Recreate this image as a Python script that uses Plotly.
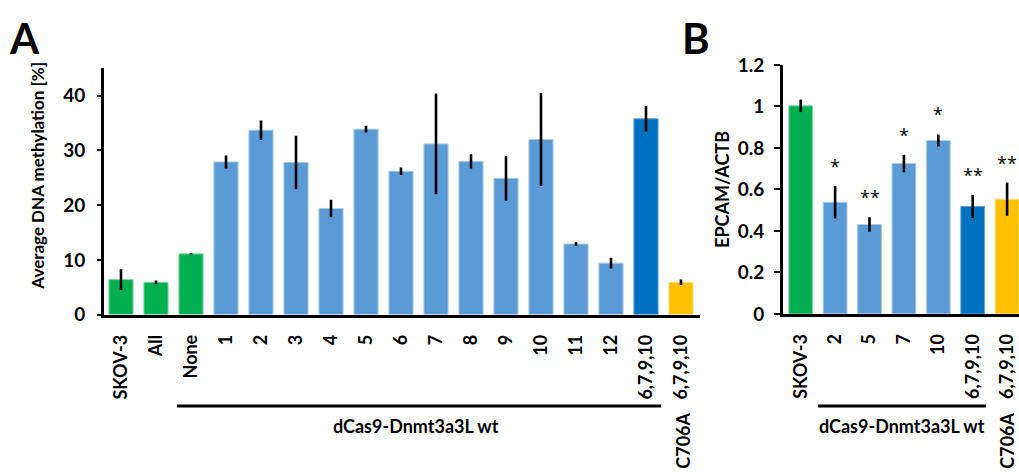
import plotly.graph_objects as go

# ---------------- data ----------------
a_labels = ["SKOV-3", "All", "None", "1", "2", "3", "4", "5", "6", "7", "8", "9",
            "10", "11", "12", "6,7,9,10", "6,7,9,10"]
a_values = [6.4, 5.9, 11.1, 27.9, 33.7, 27.8, 19.4, 33.9, 26.2, 31.2, 28.0, 24.9,
            32.0, 12.9, 9.4, 35.8, 5.9]
a_errors = [1.9, 0.35, 0.1, 1.2, 1.8, 4.9, 1.6, 0.6, 0.7, 9.2, 1.3, 4.1,
            8.5, 0.3, 1.0, 2.35, 0.5]
a_groups = ["ctrl", "ctrl", "ctrl", "wt", "wt", "wt", "wt", "wt", "wt", "wt", "wt", "wt",
            "wt", "wt", "wt", "wtmulti", "mut"]

b_labels = ["SKOV-3", "2", "5", "7", "10", "6,7,9,10", "6,7,9,10"]
b_values = [1.003, 0.538, 0.431, 0.725, 0.836, 0.518, 0.553]
b_errors = [0.03, 0.078, 0.035, 0.042, 0.029, 0.056, 0.08]
b_groups = ["ctrl", "wt", "wt", "wt", "wt", "wtmulti", "mut"]
b_sig = ["", "*", "**", "*", "*", "**", "**"]

colors = {"ctrl": "#00B050", "wt": "#5B9BD5", "wtmulti": "#0070C0", "mut": "#FFC000"}
edge = {"ctrl": "#7FD7A7", "wt": "#A9CBEA", "wtmulti": "#5FA3D8", "mut": "#FFE07F"}

W, H = 1019, 474
FONT = "Lato"


def px(x):
    return x / W


def py(y):
    return 1 - y / H


fig = go.Figure()

ax = list(range(len(a_labels)))
bx = list(range(len(b_labels)))

fig.add_trace(go.Bar(
    x=ax, y=a_values, xaxis="x", yaxis="y",
    marker=dict(color=[colors[g] for g in a_groups],
                line=dict(color=[edge[g] for g in a_groups], width=1)),
    error_y=dict(type="data", array=a_errors, color="black", thickness=2.6, width=0),
    showlegend=False, hoverinfo="x+y"))

fig.add_trace(go.Bar(
    x=bx, y=b_values, xaxis="x2", yaxis="y2",
    marker=dict(color=[colors[g] for g in b_groups],
                line=dict(color=[edge[g] for g in b_groups], width=1)),
    error_y=dict(type="data", array=b_errors, color="black", thickness=2.6, width=0),
    showlegend=False, hoverinfo="x+y"))

tickfont = dict(family=FONT, size=19, color="black", weight="bold")
xtickfont = dict(family=FONT, size=18, color="black", weight="bold")

# panel geometry (pixels)
a_x0, a_x1, a_c0, a_step = 104, 700, 121, 35.0
b_x0, b_x1, b_c0, b_step = 783, 1019, 800.7, 34.4

fig.update_layout(
    width=W, height=H, margin=dict(l=0, r=0, t=0, b=0),
    paper_bgcolor="white", plot_bgcolor="white",
    bargap=0.31,
    xaxis=dict(domain=[px(a_x0), px(a_x1)], anchor="y",
               range=[(a_x0 - a_c0) / a_step, (a_x1 - a_c0) / a_step],
               tickmode="array", tickvals=ax, ticktext=a_labels, tickangle=-90,
               tickfont=xtickfont, ticks="", ticklabelstandoff=10,
               showline=True, linecolor="black", linewidth=3, showgrid=False,
               zeroline=False, fixedrange=True),
    yaxis=dict(domain=[py(318), py(59.3)], anchor="x", range=[0, 45],
               tickvals=[0, 10, 20, 30, 40], tickfont=tickfont,
               ticks="outside", ticklen=4, tickwidth=2, tickcolor="black",
               ticklabelstandoff=8,
               showline=True, linecolor="black", linewidth=3, showgrid=False,
               zeroline=False, fixedrange=True),
    xaxis2=dict(domain=[px(b_x0), px(b_x1)], anchor="y2",
                range=[(b_x0 - b_c0) / b_step, (b_x1 - b_c0) / b_step],
                tickmode="array", tickvals=bx, ticktext=b_labels, tickangle=-90,
                tickfont=xtickfont, ticks="", ticklabelstandoff=10,
                showline=True, linecolor="black", linewidth=3, showgrid=False,
                zeroline=False, fixedrange=True),
    yaxis2=dict(domain=[py(317.3), py(55.7)], anchor="x2", range=[0, 1.2],
                tickvals=[0, 0.2, 0.4, 0.6, 0.8, 1, 1.2],
                ticktext=["0", "0.2", "0.4", "0.6", "0.8", "1", "1.2"],
                tickfont=tickfont,
                ticks="outside", ticklen=6, tickwidth=2, tickcolor="black",
                ticklabelstandoff=6,
                showline=True, linecolor="black", linewidth=3, showgrid=False,
                zeroline=False, fixedrange=True),
)

annotations = []
# panel letters
for letter, cx in (("A", 24), ("B", 696)):
    annotations.append(dict(text="<b>%s</b>" % letter, x=px(cx), y=py(27),
                            xref="paper", yref="paper", xanchor="center", yanchor="middle",
                            showarrow=False, font=dict(family=FONT, size=42, color="black")))
# y titles
annotations.append(dict(text="<b>Average DNA methylation [%]</b>", x=px(38), y=py(172),
                        xref="paper", yref="paper", xanchor="center", yanchor="middle",
                        textangle=-90, showarrow=False,
                        font=dict(family=FONT, size=17, color="black")))
annotations.append(dict(text="<b>EPCAM/ACTB</b>", x=px(722), y=py(187),
                        xref="paper", yref="paper", xanchor="center", yanchor="middle",
                        textangle=-90, showarrow=False,
                        font=dict(family=FONT, size=18, color="black")))
# group labels
grpfont = dict(family=FONT, size=18, color="black", weight="bold")
for cx in (416, 902):
    annotations.append(dict(text="dCas9-Dnmt3a3L wt", x=px(cx), y=py(435), xref="paper",
                            yref="paper", xanchor="center", yanchor="middle",
                            showarrow=False, font=grpfont))
for cx in (683, 1007):
    annotations.append(dict(text="<b>C706A</b>", x=px(cx), y=py(419), xref="paper",
                            yref="paper", xanchor="center", yanchor="top", textangle=-90,
                            showarrow=False, font=dict(family=FONT, size=18, color="black")))
# significance stars
for i, s in enumerate(b_sig):
    if s:
        annotations.append(dict(text=s, x=i, y=b_values[i] + b_errors[i], xref="x2",
                                yref="y2", yanchor="bottom", yshift=6, showarrow=False,
                                font=dict(family="Open Sans", size=18, color="black")))
fig.update_layout(annotations=annotations)

# group underline bars
fig.add_shape(type="line", xref="paper", yref="paper", x0=px(177), x1=px(661),
              y0=py(414), y1=py(414), line=dict(color="black", width=3))
fig.add_shape(type="line", xref="paper", yref="paper", x0=px(818), x1=px(986),
              y0=py(414), y1=py(414), line=dict(color="black", width=3))

fig.write_html("out.html")
